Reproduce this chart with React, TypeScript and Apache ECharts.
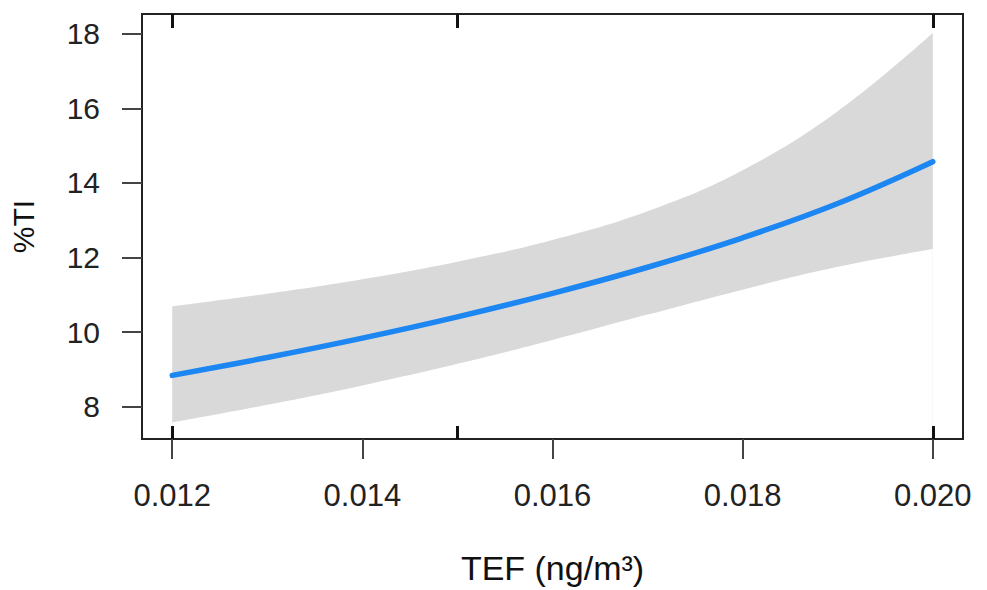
import React, { useEffect, useRef } from "react";
import * as echarts from "echarts";

// TEF (ng/m3) sample points
const tef = [0.012, 0.013, 0.014, 0.015, 0.016, 0.017, 0.018, 0.019, 0.02];
// fitted %TI
const fitTI = [8.84, 9.32, 9.84, 10.41, 11.04, 11.74, 12.53, 13.45, 14.57];
// upper confidence bound
const upperTI = [10.69, 11.03, 11.42, 11.89, 12.47, 13.24, 14.34, 15.92, 18.02];
// lower confidence bound
const lowerTI = [7.58, 8.05, 8.57, 9.15, 9.79, 10.47, 11.14, 11.75, 12.23];

const xTicks = [0.012, 0.014, 0.016, 0.018, 0.02];
const yTicks = [8, 10, 12, 14, 16, 18];
const rugTEF = [0.012, 0.015, 0.02];

const X_MIN = 0.011682;
const X_MAX = 0.020318;
const Y_MIN = 7.135;
const Y_MAX = 18.53;

const FONT = "'Liberation Sans', Arial, Helvetica, sans-serif";

export default function App() {
  const ref = useRef<HTMLDivElement>(null);

  useEffect(() => {
    if (!ref.current) return;
    const chart = echarts.init(ref.current, undefined, { renderer: "svg" });

    const upperData = tef.map((x, i) => [x, upperTI[i]]);
    const lowerData = tef.map((x, i) => [x, lowerTI[i]]);
    const fitData = tef.map((x, i) => [x, fitTI[i]]);

    const gridRect = { left: 142, top: 14, width: 821, height: 425 };

    chart.setOption({
      animation: false,
      backgroundColor: "#ffffff",
      textStyle: { fontFamily: FONT },
      grid: [
        {
          ...gridRect,
          show: true,
          z: 10,
          borderColor: "#222",
          borderWidth: 2,
          backgroundColor: "transparent",
          containLabel: false,
        },
        { ...gridRect, show: false, containLabel: false },
      ],
      xAxis: [
        {
          type: "value",
          gridIndex: 0,
          position: "bottom",
          z: 10,
          min: X_MIN,
          max: X_MAX,
          axisLine: { show: false },
          splitLine: { show: false },
          axisTick: {
            show: true,
            inside: false,
            length: 20,
            customValues: xTicks,
            lineStyle: { color: "#444", width: 2 },
          },
          axisLabel: {
            show: true,
            customValues: xTicks,
            margin: 41,
            fontSize: 31,
            color: "#222",
            fontFamily: FONT,
            formatter: (v: number) => v.toFixed(3),
          },
          name: "TEF (ng/m³)",
          nameLocation: "middle",
          nameGap: 112,
          nameTextStyle: { fontSize: 34, color: "#111", fontFamily: FONT },
        },
        {
          type: "value",
          gridIndex: 0,
          position: "top",
          z: 10,
          min: X_MIN,
          max: X_MAX,
          axisLine: { show: false },
          splitLine: { show: false },
          axisTick: {
            show: true,
            inside: true,
            length: 14,
            customValues: rugTEF,
            lineStyle: { color: "#111", width: 3 },
          },
          axisLabel: { show: false },
        },
        {
          type: "value",
          gridIndex: 1,
          position: "bottom",
          z: 10,
          min: X_MIN,
          max: X_MAX,
          axisLine: { show: false },
          splitLine: { show: false },
          axisTick: {
            show: true,
            inside: true,
            length: 13,
            customValues: rugTEF,
            lineStyle: { color: "#111", width: 3 },
          },
          axisLabel: { show: false },
        },
      ],
      yAxis: [
        {
          type: "value",
          gridIndex: 0,
          z: 10,
          min: Y_MIN,
          max: Y_MAX,
          axisLine: { show: false },
          splitLine: { show: false },
          axisTick: {
            show: true,
            inside: false,
            length: 20,
            customValues: yTicks,
            lineStyle: { color: "#444", width: 2 },
          },
          axisLabel: {
            show: true,
            customValues: yTicks,
            margin: 42,
            fontSize: 30,
            color: "#222",
            fontFamily: FONT,
          },
          name: "%TI",
          nameLocation: "middle",
          nameGap: 104,
          nameRotate: 90,
          nameTextStyle: { fontSize: 30, color: "#111", fontFamily: FONT },
        },
        {
          type: "value",
          gridIndex: 1,
          min: Y_MIN,
          max: Y_MAX,
          show: false,
        },
      ],
      series: [
        {
          // grey band: filled from the upper bound down to the axis floor
          type: "line",
          xAxisIndex: 0,
          yAxisIndex: 0,
          data: upperData,
          smooth: 0.4,
          symbol: "none",
          lineStyle: { width: 0, opacity: 0 },
          areaStyle: { color: "#d9d9d9", opacity: 1, origin: "start" },
          silent: true,
          z: 1,
        },
        {
          // white fill below the lower bound, leaving the band between them
          type: "line",
          xAxisIndex: 0,
          yAxisIndex: 0,
          data: lowerData,
          smooth: 0.4,
          symbol: "none",
          lineStyle: { width: 0, opacity: 0 },
          areaStyle: { color: "#ffffff", opacity: 1, origin: "start" },
          silent: true,
          z: 2,
        },
        {
          type: "line",
          xAxisIndex: 0,
          yAxisIndex: 0,
          data: fitData,
          smooth: 0.4,
          symbol: "none",
          lineStyle: { color: "#1c86f2", width: 5.5, cap: "round" },
          z: 3,
        },
      ],
    });

    return () => {
      chart.dispose();
    };
  }, []);

  return (
    <div
      ref={ref}
      style={{ position: "fixed", left: 0, top: 0, width: 987, height: 590 }}
    />
  );
}
